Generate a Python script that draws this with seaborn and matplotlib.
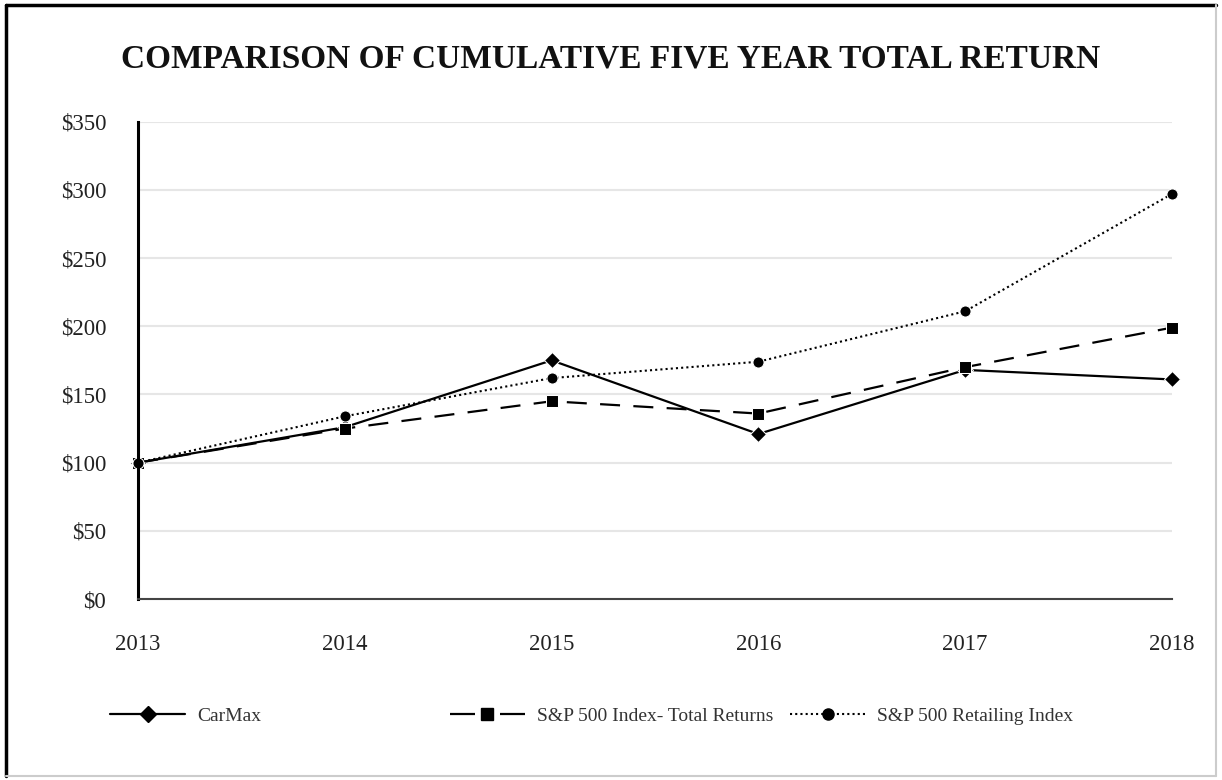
import numpy as np
import pandas as pd
import seaborn as sns
import matplotlib.pyplot as plt
from matplotlib.lines import Line2D

# datos
years = [2013, 2014, 2015, 2016, 2017, 2018]
carmax = [100, 126, 175, 121, 168, 161]
sp500 = [100, 125, 145, 136, 170, 199]
retail = [100, 134, 162, 174, 211, 297]
series_names = ["CarMax", "S&P 500 Index- Total Returns", "S&P 500 Retailing Index"]
y_ticks = [0, 50, 100, 150, 200, 250, 300, 350]

sns.set_theme(style="white")
plt.rcParams['font.family'] = ['Liberation Serif', 'DejaVu Serif']

df = pd.DataFrame({
    "year": years * 3,
    "value": carmax + sp500 + retail,
    "series": [series_names[0]] * 6 + [series_names[1]] * 6 + [series_names[2]] * 6,
})

fig = plt.figure(figsize=(12.22, 7.8), dpi=100)
ax = fig.add_axes([0.113, 0.232, 0.846, 0.612])

styles = {
    series_names[0]: dict(linestyle='-', marker='D', markersize=8, linewidth=1.6),
    series_names[1]: dict(linestyle=(0, (9, 6)), marker='s', markersize=8, linewidth=1.6),
    series_names[2]: dict(linestyle=(0, (1, 1.5)), marker='o', markersize=8, linewidth=1.5),
}

for name in series_names:
    sub = df[df["series"] == name]
    sns.lineplot(data=sub, x="year", y="value", ax=ax, color='black',
                 clip_on=False, label=name, **styles[name])

ax.set_xlim(2013, 2018)
ax.set_ylim(0, 350)
ax.set_yticks(y_ticks)
ax.set_yticklabels([f"${v}" for v in y_ticks])
ax.set_xticks(years)
ax.set_xticklabels([str(y) for y in years])
ax.set_xlabel("")
ax.set_ylabel("")
ax.yaxis.grid(True, color='#e6e6e6', linewidth=1.5)
ax.set_axisbelow(True)

for s in ['top', 'right']:
    ax.spines[s].set_visible(False)
ax.spines['left'].set_color('black')
ax.spines['left'].set_linewidth(2.2)
ax.spines['bottom'].set_color('#444444')
ax.spines['bottom'].set_linewidth(1.5)
ax.tick_params(axis='both', which='both', length=9, width=1, color='#555555',
               labelsize=16.5, labelcolor='#222222', direction='out')
ax.tick_params(axis='x', pad=16)
ax.tick_params(axis='y', pad=14)

ax.get_legend().remove()
# en la leyenda el guion de S&P 500 es simetrico alrededor del marcador
legend_styles = dict(styles)
legend_styles[series_names[1]] = dict(styles[series_names[1]], linestyle=(0, (11.25, 11.25)))
legend_x = [0.090, 0.368, 0.6465]
for name, lx in zip(series_names, legend_x):
    h = Line2D([0], [0], color='black', **legend_styles[name])
    leg = fig.legend([h], [name], loc='center left', bbox_to_anchor=(lx, 0.082),
                     frameon=False, fontsize=14, handlelength=3.86, handletextpad=0.62,
                     borderpad=0, borderaxespad=0, numpoints=1, labelcolor='#333333')

fig.text(0.5, 0.925, "COMPARISON OF CUMULATIVE FIVE YEAR TOTAL RETURN",
         ha='center', va='center', fontsize=24, fontweight='bold', color='#111111')

# marco de la figura
fig.add_artist(Line2D([0.005, 0.005], [0.005, 0.994], transform=fig.transFigure, color='black', linewidth=2.5))
fig.add_artist(Line2D([0.005, 0.995], [0.994, 0.994], transform=fig.transFigure, color='black', linewidth=2.5))
fig.add_artist(Line2D([0.995, 0.995], [0.005, 0.994], transform=fig.transFigure, color='#cccccc', linewidth=1.5))
fig.add_artist(Line2D([0.005, 0.995], [0.005, 0.005], transform=fig.transFigure, color='#cccccc', linewidth=1.5))

fig.savefig("out.png", dpi=100)
